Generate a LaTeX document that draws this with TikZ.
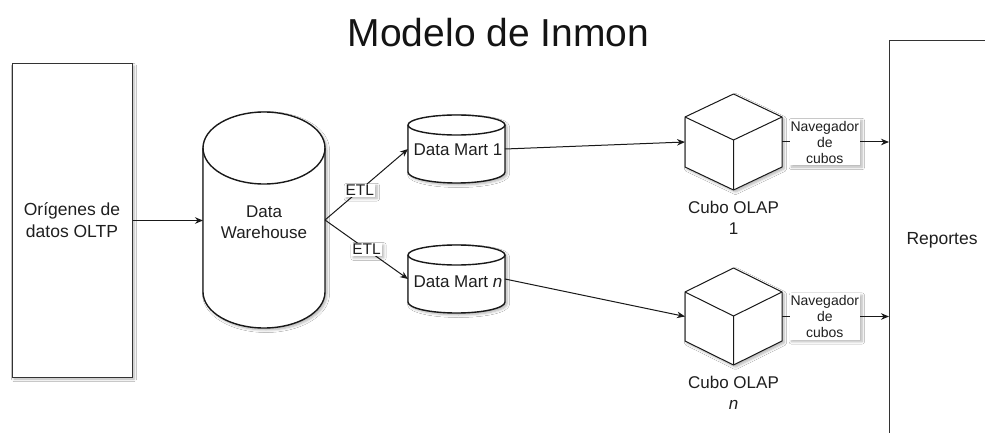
\documentclass[tikz,border=0pt]{standalone}
\usepackage{fontspec}
\setmainfont{Liberation Sans}
\usetikzlibrary{arrows.meta,shadows.blur}

\begin{document}
\begin{tikzpicture}[x=1pt,y=-1pt,
  softshadow/.style={blur shadow={shadow xshift=2pt,shadow yshift=-2pt,shadow blur radius=2.5pt,shadow blur steps=6,shadow opacity=30}},
  shp/.style={draw=black!90,line width=1.4pt,fill=white,softshadow},
  inner line/.style={draw=black!90,line width=1.4pt},
  cubeline/.style={draw=black!90,line width=1pt,line join=round},
  framebox/.style={draw=black!80,line width=1pt,fill=white,softshadow,inner sep=0pt},
  anchorbox/.style={inner sep=0pt,outer sep=0pt},
  lbl/.style={font=\fontsize{17}{21}\selectfont,align=center,text=black!88},
  conn/.style={draw=black!90,line width=1pt,-{Stealth[length=8pt,width=6.5pt]}},
  tag/.style={fill=white,font=\fontsize{15.5}{17}\selectfont,text=black!88,inner sep=1pt,softshadow},
  nav/.style={fill=white,font=\fontsize{14}{16}\selectfont,align=center,text=black!88,inner xsep=1pt,inner ysep=2pt,softshadow}]

\useasboundingbox[fill=white] (0,0) rectangle (985,433);
\clip (0,0) rectangle (985,433);

% title
\node[font=\fontsize{39}{46}\selectfont,anchor=base,text=black!92] (title) at (498.5,47) {Modelo de Inmon};

% sources and reports
\node[framebox,lbl,font=\fontsize{17.5}{22}\selectfont,minimum width=120pt,minimum height=313pt] (src) at (72,220.5) {Orígenes de\\datos OLTP};
\node[framebox,minimum width=140pt,minimum height=420pt,anchor=north west] (rep) at (889,40) {};
\node[lbl,font=\fontsize{17.5}{21}\selectfont] (reptxt) at (942,240) {Reportes};

% anchor boxes of the drawn shapes
\node[anchorbox,minimum width=122pt,minimum height=215pt] (dw) at (264,220) {};
\node[anchorbox,minimum width=97pt,minimum height=68pt] (dm1) at (456.5,149) {};
\node[anchorbox,minimum width=97pt,minimum height=68pt] (dmn) at (456.5,279) {};
\node[anchorbox,minimum width=97pt,minimum height=96pt] (c1) at (733.5,142) {};
\node[anchorbox,minimum width=97pt,minimum height=97pt] (cn) at (733.5,316.5) {};

% data warehouse cylinder
\path[shp] (203,148) arc[start angle=180,end angle=0,x radius=61pt,y radius=36pt]
  -- (325,292) arc[start angle=0,end angle=-180,x radius=61pt,y radius=36pt] -- cycle;
\draw[inner line] (203,148) arc[start angle=180,end angle=360,x radius=61pt,y radius=36pt];
\node[lbl] (dwtxt) at (264,222) {Data\\Warehouse};

% data mart cylinders
\path[shp] (408,125) arc[start angle=180,end angle=0,x radius=48.5pt,y radius=10pt]
  -- (505,172) arc[start angle=0,end angle=-180,x radius=48.5pt,y radius=11pt] -- cycle;
\draw[inner line] (408,125) arc[start angle=180,end angle=360,x radius=48.5pt,y radius=10pt];
\node[lbl] (dm1txt) at (458,150) {Data Mart 1};

\path[shp] (408,255) arc[start angle=180,end angle=0,x radius=48.5pt,y radius=10pt]
  -- (505,302) arc[start angle=0,end angle=-180,x radius=48.5pt,y radius=11pt] -- cycle;
\draw[inner line] (408,255) arc[start angle=180,end angle=360,x radius=48.5pt,y radius=10pt];
\node[lbl] (dmntxt) at (458,282) {Data Mart \textit{n}};

% OLAP cubes
\path[cubeline,fill=white,softshadow] (733.5,94) -- (685,117) -- (685,167) -- (733.5,190) -- (782,167) -- (782,117) -- cycle;
\draw[cubeline] (685,117) -- (733.5,140) -- (782,117) (733.5,140) -- (733.5,190);
\node[lbl] (c1txt) at (733.5,218) {Cubo OLAP\\1};

\path[cubeline,fill=white,softshadow] (733.5,268) -- (685,292) -- (685,341) -- (733.5,365) -- (782,341) -- (782,292) -- cycle;
\draw[cubeline] (685,292) -- (733.5,316) -- (782,292) (733.5,316) -- (733.5,365);
\node[lbl] (cntxt) at (733.5,393) {Cubo OLAP\\\textit{n}};

% connectors
\draw[conn] (src.east) -- (src.east -| dw.west);
\draw[conn] (dw.east) -- node[tag,pos=.42] (etl1) {ETL} (dm1.west);
\draw[conn] (dw.east) -- node[tag,pos=.5] (etl2) {ETL} (dmn.west);
\draw[conn] (dm1.east) -- (c1.west);
\draw[conn] (dmn.east) -- (cn.west);
\draw[conn] (c1.east) -- node[nav,pos=.4] (nav1) {Navegador\\de\\cubos} (c1.east -| rep.west);
\draw[conn] (cn.east) -- node[nav,pos=.4] (navn) {Navegador\\de\\cubos} (cn.east -| rep.west);
\end{tikzpicture}
\end{document}
